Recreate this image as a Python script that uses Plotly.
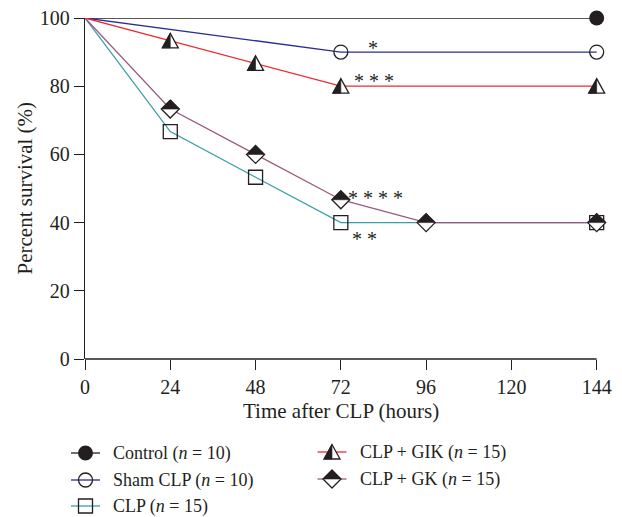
import plotly.graph_objects as go

# ---------------- data ----------------
time_control = [0, 144]
surv_control = [100, 100]

time_sham = [0, 72, 144]
surv_sham = [100, 90, 90]

time_gik = [0, 24, 48, 72, 144]
surv_gik = [100, 93.3, 86.7, 80, 80]

time_clp = [0, 24, 48, 72, 144]
surv_clp = [100, 66.7, 53.3, 40, 40]

time_gk = [0, 24, 48, 72, 96, 144]
surv_gk = [100, 73.3, 60, 46.7, 40, 40]

x_ticks = [0, 24, 48, 72, 96, 120, 144]
y_ticks = [0, 20, 40, 60, 80, 100]

x_title = "Time after CLP (hours)"
y_title = "Percent survival (%)"

legend_control = "Control (<i>n</i> = 10)"
legend_sham = "Sham CLP (<i>n</i> = 10)"
legend_clp = "CLP (<i>n</i> = 15)"
legend_gik = "CLP + GIK (<i>n</i> = 15)"
legend_gk = "CLP + GK (<i>n</i> = 15)"

sig_sham = "*"
sig_gik = "* * *"
sig_gk = "* * * *"
sig_clp = "* *"

# ---------------- style ----------------
FONT = "Liberation Serif"
INK = "#231f20"
C_CONTROL = "#231f20"
C_SHAM = "#2b2e8f"
C_GIK = "#ee2a30"
C_CLP = "#3a9ea5"
C_GK = "#9a5a80"
LW = 1.3

W, H = 622, 517
ML, MR, MT, MB = 85, 4, 18, 158
PW, PH = W - ML - MR, H - MT - MB

fig = go.Figure()

# lines
for t, v, c in [(time_control, surv_control, C_CONTROL),
                (time_sham, surv_sham, C_SHAM),
                (time_gik, surv_gik, C_GIK),
                (time_clp, surv_clp, C_CLP),
                (time_gk, surv_gk, C_GK)]:
    fig.add_trace(go.Scatter(x=t, y=v, mode="lines", line=dict(color=c, width=LW),
                             cliponaxis=False, showlegend=False, hoverinfo="skip"))

# plain markers (first point = start, no marker)
fig.add_trace(go.Scatter(x=time_control[1:], y=surv_control[1:], mode="markers",
                         marker=dict(symbol="circle", size=15, color=INK, line=dict(width=0)),
                         cliponaxis=False, showlegend=False))
fig.add_trace(go.Scatter(x=time_sham[1:], y=surv_sham[1:], mode="markers",
                         marker=dict(symbol="circle-open", size=14, color=INK, line=dict(width=1.3)),
                         cliponaxis=False, showlegend=False))
fig.add_trace(go.Scatter(x=time_clp[1:], y=surv_clp[1:], mode="markers",
                         marker=dict(symbol="square-open", size=14, color=INK, line=dict(width=1.3)),
                         cliponaxis=False, showlegend=False))

# half-filled marker geometry (pixels, y up)
TRI_FULL = "M0,7.5L-8,-7L8,-7Z"
TRI_HALF = "M0,7.5L-8,-7L0,-7Z"
DIA_FULL = "M0,9L9,0L0,-9L-9,0Z"
DIA_HALF = "M0,9L9,0L-9,0Z"


def half_marker(xa, ya, full, half, xref="x", yref="y"):
    base = dict(type="path", xref=xref, yref=yref, xsizemode="pixel", ysizemode="pixel",
                xanchor=xa, yanchor=ya, layer="above")
    return [dict(base, path=full, fillcolor="white", line=dict(color=INK, width=1.3)),
            dict(base, path=half, fillcolor=INK, line=dict(color=INK, width=0.6))]


shapes = []
for xa, ya in zip(time_gik[1:], surv_gik[1:]):
    shapes += half_marker(xa, ya, TRI_FULL, TRI_HALF)
for xa, ya in zip(time_gk[1:], surv_gk[1:]):
    shapes += half_marker(xa, ya, DIA_FULL, DIA_HALF)

# x axis line only across the tick span
shapes.append(dict(type="line", xref="x", yref="paper", x0=x_ticks[0], x1=x_ticks[-1], y0=0, y1=0,
                   line=dict(color=INK, width=LW), layer="above"))


# ---------------- custom legend ----------------
def px2paper_x(px):
    return (px - ML) / PW


def px2paper_y(py):
    return (H - MB - py) / PH


annotations = []
legend_rows = [
    (85.5, 453, C_CONTROL, "dot", legend_control),
    (85.5, 480, C_SHAM, "ring", legend_sham),
    (85.5, 506, C_CLP, "square", legend_clp),
    (332, 452, C_GIK, "tri", legend_gik),
    (332, 479, C_GK, "dia", legend_gk),
]
for cx, cy, col, kind, label in legend_rows:
    xa, ya = px2paper_x(cx), px2paper_y(cy)
    base = dict(xref="paper", yref="paper", xsizemode="pixel", ysizemode="pixel",
                xanchor=xa, yanchor=ya, layer="above")
    shapes.append(dict(base, type="line", x0=-14.5, x1=14.5, y0=0, y1=0, line=dict(color=col, width=LW)))
    if kind == "dot":
        shapes.append(dict(base, type="circle", x0=-7.5, x1=7.5, y0=-7.5, y1=7.5,
                           fillcolor=INK, line=dict(color=INK, width=0)))
    elif kind == "ring":
        shapes.append(dict(base, type="circle", x0=-7, x1=7, y0=-7, y1=7,
                           fillcolor="rgba(0,0,0,0)", line=dict(color=INK, width=1.3)))
    elif kind == "square":
        shapes.append(dict(base, type="rect", x0=-7, x1=7, y0=-7, y1=7,
                           fillcolor="rgba(0,0,0,0)", line=dict(color=INK, width=1.3)))
    elif kind == "tri":
        shapes += half_marker(xa, ya, TRI_FULL, TRI_HALF, "paper", "paper")
    elif kind == "dia":
        shapes += half_marker(xa, ya, DIA_FULL, DIA_HALF, "paper", "paper")
    annotations.append(dict(xref="paper", yref="paper", x=px2paper_x(cx + 25.5), y=ya,
                            xanchor="left", yanchor="middle", text=label, showarrow=False,
                            font=dict(family=FONT, size=18, color=INK)))

# significance marks, anchored to data points
for t, v, txt, dx, dy in [(time_sham[1], surv_sham[1], sig_sham, 32, 4),
                          (time_gik[3], surv_gik[3], sig_gik, 33, 5),
                          (time_gk[3], surv_gk[3], sig_gk, 35, 2),
                          (time_clp[3], surv_clp[3], sig_clp, 24, -16)]:
    annotations.append(dict(xref="x", yref="y", x=t, y=v, xshift=dx, yshift=dy, text=txt,
                            showarrow=False, xanchor="center", yanchor="middle",
                            font=dict(family=FONT, size=20, color=INK)))

# axis titles (centred on the tick span)
annotations.append(dict(xref="x", yref="paper", x=(x_ticks[0] + x_ticks[-1]) / 2, y=px2paper_y(411),
                        xanchor="center", yanchor="middle", text=x_title, showarrow=False,
                        font=dict(family=FONT, size=21, color=INK)))
annotations.append(dict(xref="paper", yref="paper", x=px2paper_x(24), y=0.5, textangle=-90,
                        xanchor="center", yanchor="middle", text=y_title, showarrow=False,
                        font=dict(family=FONT, size=21, color=INK)))

fig.update_layout(
    width=W, height=H,
    margin=dict(l=ML, r=MR, t=MT, b=MB, pad=0),
    paper_bgcolor="white", plot_bgcolor="white",
    font=dict(family=FONT, size=18, color=INK),
    showlegend=False,
    shapes=shapes,
    annotations=annotations,
    xaxis=dict(range=[x_ticks[0], x_ticks[-1] + 6], tickvals=x_ticks, ticktext=[str(v) for v in x_ticks],
               showline=False, showgrid=False, zeroline=False,
               ticks="outside", ticklen=10, tickwidth=LW, tickcolor=INK,
               tickfont=dict(family=FONT, size=20, color=INK)),
    yaxis=dict(range=[y_ticks[0], y_ticks[-1]], tickvals=y_ticks, ticktext=[str(v) for v in y_ticks],
               showline=True, linewidth=LW, linecolor=INK, showgrid=False, zeroline=False,
               ticks="outside", ticklen=10, tickwidth=LW, tickcolor=INK,
               tickfont=dict(family=FONT, size=20, color=INK)),
)

fig.write_html("out.html", config={"displayModeBar": False},
               post_script="document.body.style.margin='0';document.body.style.overflow='hidden';")
